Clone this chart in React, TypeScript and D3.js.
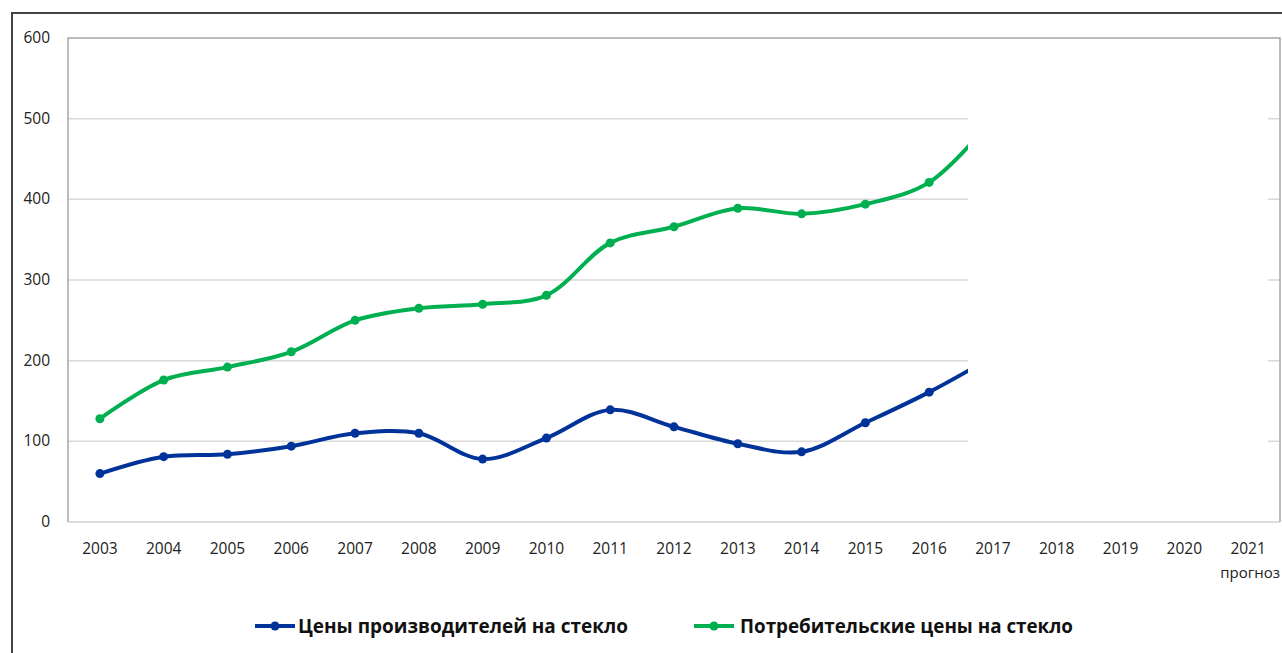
import * as d3 from "d3";

const years = [
  "2003", "2004", "2005", "2006", "2007", "2008", "2009", "2010", "2011", "2012",
  "2013", "2014", "2015", "2016", "2017", "2018", "2019", "2020", "2021",
];
// values up to 2017; 2017 sits under the white box, only its lead-in shows
const producerPrices = [60, 81, 84, 94, 110, 110, 78, 104, 139, 118, 97, 87, 123, 161, 205];
const consumerPrices = [128, 176, 192, 211, 250, 265, 270, 281, 346, 366, 389, 382, 394, 421, 500];
const yTicks = [0, 100, 200, 300, 400, 500, 600];
const seriesNames = ["Цены производителей на стекло", "Потребительские цены на стекло"];
const seriesColors = ["#003399", "#00B050"];

const W = 1282;
const H = 653;
const plot = { left: 68, top: 38, right: 1280, bottom: 522 };
const font = "'Open Sans', 'Liberation Sans', sans-serif";

export default function App() {
  const x = d3
    .scaleBand()
    .domain(years)
    .range([plot.left, plot.right]);
  const cx = (i: number) => (x(years[i]) as number) + x.bandwidth() / 2;

  const y = d3.scaleLinear().domain([0, 600]).range([plot.bottom, plot.top]);

  const line = d3
    .line<number>()
    .x((_, i) => cx(i))
    .y((d) => y(d))
    .curve(d3.curveCatmullRom.alpha(0.5));

  const series = [producerPrices, consumerPrices];

  return (
    <svg
      width={W}
      height={H}
      style={{ position: "absolute", left: 0, top: 0, background: "#fff" }}
    >
      {/* outer frame */}
      <rect x={12} y={13} width={W + 20} height={H + 20} fill="#fff" stroke="#444" strokeWidth={2} />

      {/* grid */}
      {yTicks.slice(1, -1).map((t) => (
        <line key={t} x1={plot.left} x2={plot.right} y1={y(t)} y2={y(t)} stroke="#d9d9d9" strokeWidth={1.5} />
      ))}

      {/* lines */}
      {series.map((s, k) => (
        <g key={k}>
          <path d={line(s) || ""} fill="none" stroke={seriesColors[k]} strokeWidth={4} strokeLinejoin="round" />
          {s.map((v, i) => (
            <circle key={i} cx={cx(i)} cy={y(v)} r={4.5} fill={seriesColors[k]} />
          ))}
        </g>
      ))}

      {/* white box hiding the forecast part */}
      <rect x={968} y={42} width={300} height={477} fill="#fff" />

      {/* plot border */}
      <path
        d={`M${plot.left},${plot.bottom}V${plot.top}H${plot.right}V${plot.bottom}`}
        fill="none"
        stroke="#a6a6a6"
        strokeWidth={1.5}
      />
      <line x1={plot.left} x2={plot.right} y1={plot.bottom} y2={plot.bottom} stroke="#cfcfcf" strokeWidth={1.5} />

      {/* y tick labels */}
      {yTicks.map((t) => (
        <text
          key={t}
          x={50}
          y={y(t) + 5}
          textAnchor="end"
          fontFamily={font}
          fontSize={15.5}
          fill="#222"
        >
          {t}
        </text>
      ))}

      {/* x tick labels */}
      {years.map((yr, i) => (
        <text
          key={yr}
          x={cx(i)}
          y={554}
          textAnchor="middle"
          fontFamily={font}
          fontSize={15.5}
          fill="#222"
        >
          {yr}
        </text>
      ))}
      <text x={cx(18) + 2} y={578} textAnchor="middle" fontFamily={font} fontSize={15} fill="#222">
        прогноз
      </text>

      {/* legend */}
      {[
        { x0: 255, tx: 298, w: 330 },
        { x0: 694, tx: 740, w: 333 },
      ].map((l, k) => (
        <g key={k}>
          <line x1={l.x0} x2={l.x0 + 40} y1={626} y2={626} stroke={seriesColors[k]} strokeWidth={4} />
          <circle cx={l.x0 + 20} cy={626} r={4.5} fill={seriesColors[k]} />
          <text
            x={l.tx}
            y={633}
            fontFamily={font}
            fontSize={20}
            fontWeight="bold"
            fill="#111"
            textLength={l.w}
            lengthAdjust="spacingAndGlyphs"
          >
            {seriesNames[k]}
          </text>
        </g>
      ))}
    </svg>
  );
}
